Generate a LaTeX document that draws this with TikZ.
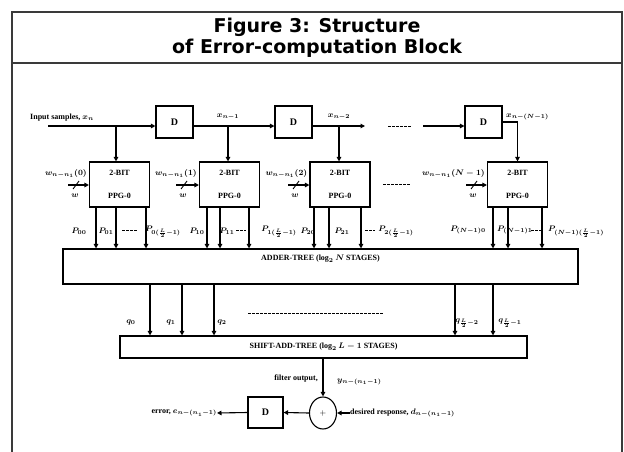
\documentclass[tikz,border=0pt]{standalone}
\usepackage{amsmath}
\usepackage{fontspec}
\setmainfont{Liberation Serif}
\newfontfamily\titlefont{DejaVu Sans}
\usetikzlibrary{positioning,arrows.meta,calc,shapes.geometric}
\definecolor{framec}{HTML}{3A3A3A}
\tikzset{
  dbox/.style={draw,line width=1.1pt,minimum width=37pt,minimum height=32pt,inner sep=0pt,font=\fontsize{10}{10}\selectfont\bfseries},
  ppgbox/.style={draw,line width=1.1pt,minimum width=60pt,minimum height=45pt,inner sep=0pt,align=center,font=\fontsize{8}{23}\selectfont\bfseries},
  treebox/.style={draw,line width=1.1pt,inner sep=0pt},
  sumnode/.style={draw,ellipse,line width=1.1pt,minimum width=27pt,minimum height=32pt,inner sep=0pt,font=\fontsize{8}{8}\selectfont\bfseries},
  lbl/.style={inner sep=0pt,font=\fontsize{8}{9}\selectfont\bfseries\boldmath},
  titlec/.style={align=center,inner sep=0pt,font=\titlefont\bfseries\fontsize{19}{21}\selectfont},
  arr/.style={line width=1.1pt,-{Triangle[length=4.5pt,width=4.5pt]}},
  dotline/.style={line width=1pt,dash pattern=on 2.5pt off 1.5pt},
}
% weight input: ppg node, start x, label
\newcommand{\wtin}[3]{%
  \coordinate (#1w) at (#2,185);
  \draw[arr] (#1w) -- (#1w -| #1.west);
  \draw[line width=0.9pt] ($(#1w)+(5,4)$) -- ($(#1w)+(11,-4)$);
  \node[lbl] at ($(#1w)+(7,11)$) {$w$};
  \node[lbl,anchor=east] at ($(#1.west)+(-2,-11)$) {#3};
}

\begin{document}
\begin{tikzpicture}[x=1pt,y=-1pt]
  \useasboundingbox (0,0) rectangle (624,452);
  % frame and title
  \draw[framec,line width=1.4pt] (12,452) -- (12,12) -- (622,12) -- (622,452);
  \draw[framec,line width=1.4pt] (12,63) -- (622,63);
  \node[titlec] (title) at (317,38) {Figure 3: Structure\\of Error-computation Block};

  % delay line
  \node[dbox] (d1) at (174.5,122) {D};
  \node[dbox] (d2) at (293.5,122) {D};
  \node[dbox] (d4) at (483.5,122) {D};
  % partial product generators
  \node[ppgbox] (p1) at (119.5,184.5) {2-BIT\\PPG-0};
  \node[ppgbox] (p2) at (229.5,184.5) {2-BIT\\PPG-0};
  \node[ppgbox] (p3) at (340,184.5) {2-BIT\\PPG-0};
  \node[ppgbox] (p4) at (517.5,184.5) {2-BIT\\PPG-0};
  % trees
  \node[treebox,minimum width=515pt,minimum height=35pt] (adt) at (320.5,266.5) {};
  \node[lbl] at (320.5,259) {ADDER-TREE ($\log_2 N$ STAGES)};
  \node[treebox,minimum width=407pt,minimum height=22pt] (sat) at (323.5,347) {};
  \node[lbl] at (323.5,347) {SHIFT-ADD-TREE ($\log_2 L - 1$ STAGES)};
  % error stage
  \node[sumnode] (sum) at (323,413) {$+$};
  \node[dbox,minimum width=35pt,minimum height=31pt] (d5) at (265.5,412.5) {D};

  % input samples and taps
  \coordinate (xin) at (48,126);
  \node[lbl,anchor=west] at (30,118) {Input samples, $x_n$};
  \draw[arr] (xin) -- (xin -| d1.west);
  \coordinate (b1) at (116,126);
  \draw[arr] (b1) -- (b1 |- p1.north);
  \draw[arr] (d1.east |- xin) -- (d2.west |- xin);
  \node[lbl] at (228,117) {$x_{n-1}$};
  \coordinate (b2) at (228,126);
  \draw[arr] (b2) -- (b2 |- p2.north);
  \coordinate (x2end) at (365,126);
  \draw[arr] (d2.east |- xin) -- (x2end);
  \node[lbl] at (339,117) {$x_{n-2}$};
  \coordinate (b3) at (339,126);
  \draw[arr] (b3) -- (b3 |- p3.north);
  \draw[dotline] (388,126) -- (412,126);
  \coordinate (x3start) at (423,126);
  \draw[arr] (x3start) -- (x3start -| d4.west);
  \draw[arr] (d4.east) -| (p4.north);
  \node[lbl,anchor=west] at (506,117) {$x_{n-(N-1)}$};

  % weights
  \wtin{p1}{68}{$w_{n-n_1}(0)$}
  \wtin{p2}{176}{$w_{n-n_1}(1)$}
  \wtin{p3}{288}{$w_{n-n_1}(2)$}
  \wtin{p4}{466}{$w_{n-n_1}(N-1)$}
  \draw[dotline] (383,184) -- (410,184);

  % partial products
  \foreach \p/\xa/\xb/\xc in {p1/96/116/146, p2/207/220/249, p3/314/329/361, p4/493/508/542}
    \foreach \x in {\xa,\xb,\xc}
      \draw[arr] (\x,0 |- \p.south) -- (\x,0 |- adt.north);
  \node[lbl] at (79,231) {$P_{00}$};
  \node[lbl] at (106,231) {$P_{01}$};
  \draw[dotline] (122,230) -- (137,230);
  \node[lbl] at (163,232) {$P_{0(\frac{L}{2}-1)}$};
  \node[lbl] at (197,231) {$P_{10}$};
  \node[lbl] at (227,231) {$P_{11}$};
  \draw[dotline] (236,230) -- (246,230);
  \node[lbl] at (279,232) {$P_{1(\frac{L}{2}-1)}$};
  \node[lbl] at (308,231) {$P_{20}$};
  \node[lbl] at (342,231) {$P_{21}$};
  \draw[dotline] (365,230) -- (375,230);
  \node[lbl] at (396,232) {$P_{2(\frac{L}{2}-1)}$};
  \node[lbl,anchor=east] at (486,230) {$P_{(N-1)0}$};
  \node[lbl,anchor=west] at (497,230) {$P_{(N-1)1}$};
  \draw[dotline] (531,230) -- (541,230);
  \node[lbl,anchor=west] at (548,232) {$P_{(N-1)(\frac{L}{2}-1)}$};

  % adder-tree outputs
  \foreach \x in {150,182,214,455,493}
    \draw[arr] (\x,0 |- adt.south) -- (\x,0 |- sat.north);
  \node[lbl] at (131,322) {$q_0$};
  \node[lbl] at (171,322) {$q_1$};
  \node[lbl] at (222,322) {$q_2$};
  \draw[dotline] (248,313) -- (383,313);
  \node[lbl] at (467,323) {$q_{\frac{L}{2}-2}$};
  \node[lbl] at (510,323) {$q_{\frac{L}{2}-1}$};

  % error computation
  \draw[arr] (sat.south -| sum.north) -- (sum.north);
  \node[lbl,anchor=east] at (318,379) {filter output,};
  \node[lbl,anchor=west] at (337,382) {$y_{n-(n_1-1)}$};
  \coordinate (dres) at (350,413);
  \draw[arr] (dres) -- (sum.east);
  \node[lbl,anchor=west] at (dres) {desired response, $d_{n-(n_1-1)}$};
  \draw[arr] (sum.west) -- (d5.east);
  \coordinate (err) at (217,413);
  \draw[arr] (d5.west) -- (err);
  \node[lbl,anchor=east] at (err) {error, $e_{n-(n_1-1)}$};
\end{tikzpicture}
\end{document}
